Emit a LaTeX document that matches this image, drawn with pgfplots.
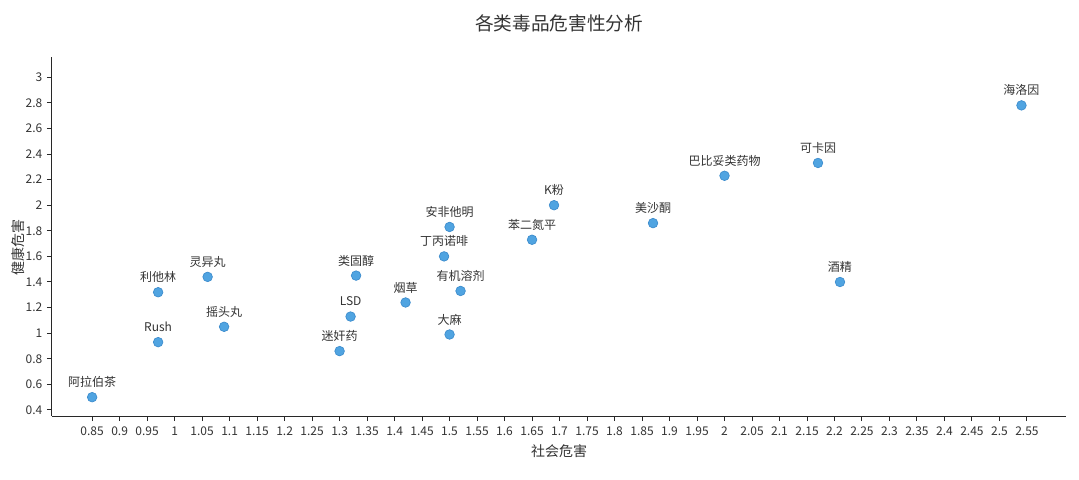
\documentclass[border=0pt]{standalone}
\usepackage{fontspec}
\setmainfont{Noto Sans CJK SC}
\usepackage{pgfplots}
\pgfplotsset{compat=1.18}
\definecolor{dotfill}{RGB}{80,164,225}
\definecolor{dotdraw}{RGB}{60,140,205}
\definecolor{txt}{RGB}{51,51,51}
\definecolor{axc}{RGB}{40,40,40}
\begin{document}
\begin{tikzpicture}
\begin{axis}[
  at={(0,0)}, anchor=origin,
  scale only axis, width=760.5pt, height=269.25pt,
  xmin=0.777, xmax=2.621, ymin=0.353, ymax=3.158,
  axis x line*=bottom, axis y line*=left,
  axis line style={-, color=axc, line width=0.75pt},
  tick align=outside, major tick length=3.75pt,
  tick style={color=axc, line width=0.75pt},
  xtick={0.85,0.9,0.95,1,1.05,1.1,1.15,1.2,1.25,1.3,1.35,1.4,1.45,1.5,1.55,1.6,1.65,1.7,1.75,1.8,1.85,1.9,1.95,2,2.05,2.1,2.15,2.2,2.25,2.3,2.35,2.4,2.45,2.5,2.55},
  ytick={0.4,0.6,0.8,1,1.2,1.4,1.6,1.8,2,2.2,2.4,2.6,2.8,3},
  /pgf/number format/assume math mode=true,
  ticklabel style={font=\fontsize{9}{9}\selectfont, text=txt},
  xticklabel style={yshift=-1pt},
  yticklabel style={xshift=0pt},
  xlabel={社会危害}, ylabel={健康危害},
  label style={font=\fontsize{10.5}{10.5}\selectfont, text=txt},
  xlabel style={at={(axis description cs:0.5,-0.0975)}, anchor=center},
  ylabel style={at={(axis description cs:-0.0335,0.468)}, anchor=center, rotate=0},
  title={各类毒品危害性分析},
  title style={font=\fontsize{14}{14}\selectfont, text=txt, at={(axis description cs:0.5,1.0724)}, anchor=center},
  clip=false,
]
\addplot[only marks, mark=*, mark size=3.6pt,
  mark options={fill=dotfill, draw=dotdraw, line width=0.5pt},
  nodes near coords, point meta=explicit symbolic,
  nodes near coords style={font=\fontsize{9}{9}\selectfont, text=txt, anchor=center, yshift=11.25pt}]
  table[meta=label] {
x y label
0.85 0.50 阿拉伯茶
0.97 0.93 Rush
0.97 1.32 利他林
1.06 1.44 灵异丸
1.09 1.05 摇头丸
1.30 0.86 迷奸药
1.32 1.13 LSD
1.33 1.45 类固醇
1.42 1.24 烟草
1.49 1.60 丁丙诺啡
1.50 1.83 安非他明
1.50 0.99 大麻
1.52 1.33 有机溶剂
1.69 2.00 K粉
1.65 1.73 苯二氮平
1.87 1.86 美沙酮
2.00 2.23 巴比妥类药物
2.17 2.33 可卡因
2.21 1.40 酒精
2.54 2.78 海洛因
};
\end{axis}
\pgfresetboundingbox
\path (-39pt,-47.25pt) rectangle (770.25pt,312pt);
\end{tikzpicture}
\end{document}
